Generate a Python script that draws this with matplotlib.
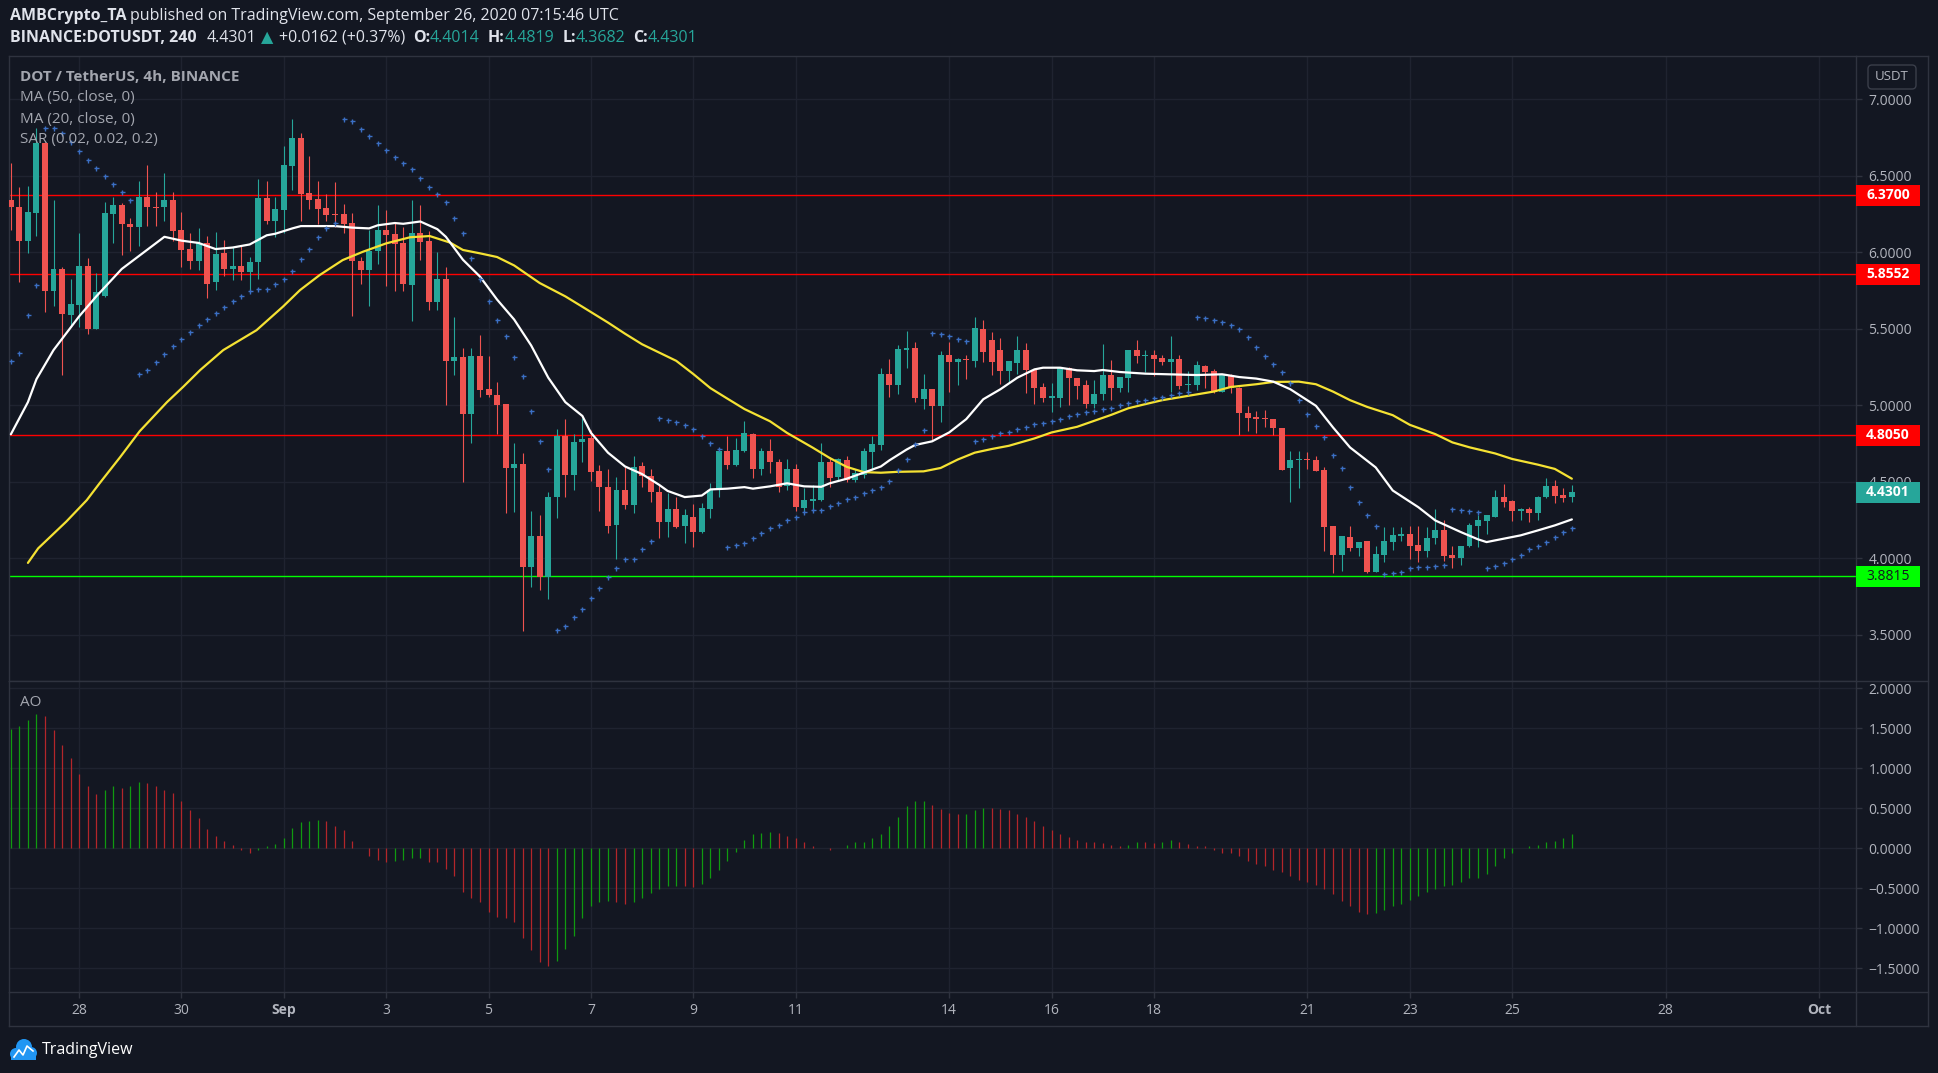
import numpy as np
import pandas as pd
import matplotlib
matplotlib.use("Agg")
import matplotlib.pyplot as plt
import matplotlib.dates as mdates
from matplotlib.patches import Rectangle, FancyBboxPatch, Circle
from matplotlib.lines import Line2D
from matplotlib.transforms import IdentityTransform, blended_transform_factory

plt.rcParams["font.family"] = ["Open Sans", "DejaVu Sans"]

# DOT/USDT 4h candles, Aug 26 16:00 -> Sep 26 04:00
candle_times = pd.date_range("2020-08-26 16:00", periods=184, freq="4h")

opens = [
    6.340, 6.292, 6.075, 6.253, 6.710, 5.748, 5.890, 5.591, 5.657, 5.909,
    5.500, 5.716, 6.249, 6.308, 6.184, 6.166, 6.360, 6.295, 6.292, 6.340,
    6.144, 6.022, 5.944, 6.057, 5.807, 5.994, 5.892, 5.909, 5.872, 5.937,
    6.353, 6.205, 6.275, 6.562, 6.745, 6.388, 6.347, 6.288, 6.249, 6.249,
    6.190, 5.944, 5.885, 6.009, 6.144, 6.118, 6.060, 5.787, 6.125, 6.073,
    5.676, 5.824, 5.291, 5.315, 4.945, 5.321, 5.106, 5.067, 5.009, 4.590,
    4.613, 3.946, 4.144, 3.881, 4.398, 4.796, 4.545, 4.757, 4.787, 4.568,
    4.465, 4.218, 4.444, 4.346, 4.602, 4.540, 4.433, 4.238, 4.323, 4.213,
    4.268, 4.172, 4.323, 4.449, 4.698, 4.609, 4.700, 4.810, 4.586, 4.698,
    4.632, 4.472, 4.581, 4.330, 4.375, 4.380, 4.632, 4.529, 4.643, 4.513,
    4.545, 4.693, 4.739, 5.204, 5.135, 5.360, 5.375, 5.043, 5.107, 4.998,
    5.325, 5.279, 5.302, 5.290, 5.495, 5.423, 5.360, 5.223, 5.278, 5.360,
    5.230, 5.119, 5.050, 5.050, 5.245, 5.176, 5.132, 5.011, 5.072, 5.197,
    5.115, 5.180, 5.358, 5.321, 5.328, 5.306, 5.282, 5.300, 5.130, 5.132,
    5.256, 5.223, 5.089, 5.197, 5.111, 4.946, 4.918, 4.915, 4.909, 4.850,
    4.588, 4.640, 4.651, 4.644, 4.579, 4.208, 4.020, 4.137, 4.067, 4.111,
    3.911, 4.020, 4.106, 4.145, 4.160, 4.085, 4.048, 4.134, 4.182, 4.020,
    4.000, 4.078, 4.208, 4.243, 4.273, 4.403, 4.377, 4.308, 4.325, 4.299,
    4.399, 4.475, 4.416, 4.4014,
]
highs = [
    6.580, 6.427, 6.432, 6.810, 6.720, 6.340, 5.905, 5.824, 6.125, 5.960,
    5.861, 6.327, 6.362, 6.321, 6.223, 6.464, 6.569, 6.393, 6.517, 6.393,
    6.262, 6.125, 6.157, 6.105, 6.131, 6.079, 6.035, 6.042, 5.968, 6.478,
    6.464, 6.360, 6.690, 6.870, 6.780, 6.628, 6.464, 6.380, 6.458, 6.314,
    6.255, 5.970, 6.144, 6.308, 6.275, 6.192, 6.166, 6.340, 6.308, 6.138,
    6.003, 5.905, 5.578, 5.371, 5.371, 5.459, 5.321, 5.154, 5.009, 4.750,
    4.689, 4.307, 4.282, 4.430, 4.842, 4.913, 4.810, 4.918, 4.838, 4.609,
    4.581, 4.529, 4.597, 4.666, 4.632, 4.581, 4.483, 4.426, 4.403, 4.323,
    4.357, 4.362, 4.490, 4.723, 4.796, 4.787, 4.895, 4.819, 4.723, 4.778,
    4.648, 4.648, 4.613, 4.460, 4.476, 4.750, 4.659, 4.655, 4.666, 4.586,
    4.723, 4.796, 5.245, 5.300, 5.393, 5.482, 5.410, 5.204, 5.107, 5.354,
    5.414, 5.311, 5.329, 5.576, 5.555, 5.479, 5.440, 5.290, 5.451, 5.406,
    5.232, 5.143, 5.143, 5.247, 5.247, 5.178, 5.163, 5.163, 5.401, 5.293,
    5.186, 5.360, 5.423, 5.358, 5.358, 5.328, 5.449, 5.328, 5.223, 5.288,
    5.262, 5.234, 5.206, 5.206, 5.119, 4.996, 4.963, 4.970, 4.911, 4.852,
    4.703, 4.703, 4.694, 4.670, 4.594, 4.210, 4.145, 4.213, 4.106, 4.113,
    4.078, 4.204, 4.204, 4.204, 4.208, 4.208, 4.204, 4.323, 4.247, 4.078,
    4.080, 4.230, 4.280, 4.282, 4.449, 4.486, 4.379, 4.327, 4.334, 4.405,
    4.525, 4.512, 4.460, 4.4819,
]
lows = [
    6.144, 5.807, 5.996, 6.105, 5.611, 5.650, 5.200, 5.513, 5.513, 5.467,
    5.500, 5.709, 6.060, 5.983, 6.009, 6.042, 6.173, 6.173, 6.205, 6.075,
    5.905, 5.892, 5.885, 5.702, 5.755, 5.846, 5.820, 5.820, 5.742, 5.827,
    6.186, 6.101, 6.125, 6.406, 6.205, 6.284, 6.186, 6.203, 6.166, 6.123,
    5.585, 5.794, 5.650, 5.924, 5.781, 5.748, 5.748, 5.552, 5.948, 5.624,
    5.624, 5.004, 5.200, 4.500, 4.751, 5.056, 5.056, 4.812, 4.293, 4.300,
    3.527, 3.813, 3.790, 3.733, 4.266, 4.398, 4.444, 4.632, 4.506, 4.311,
    4.167, 3.996, 4.323, 4.293, 4.467, 4.369, 4.133, 4.140, 4.197, 4.101,
    4.076, 4.163, 4.261, 4.403, 4.581, 4.604, 4.694, 4.522, 4.545, 4.559,
    4.430, 4.449, 4.311, 4.311, 4.311, 4.375, 4.467, 4.506, 4.499, 4.499,
    4.522, 4.574, 4.705, 5.055, 5.070, 5.245, 5.020, 4.975, 4.769, 4.888,
    5.089, 5.130, 5.169, 5.250, 5.282, 5.197, 5.137, 5.145, 5.206, 5.082,
    5.007, 5.022, 4.954, 4.989, 5.000, 5.039, 4.983, 4.985, 5.033, 5.033,
    5.089, 5.089, 5.278, 5.217, 5.189, 5.262, 5.087, 5.104, 5.082, 5.098,
    5.111, 5.082, 5.087, 5.082, 4.805, 4.833, 4.816, 4.855, 4.805, 4.577,
    4.367, 4.458, 4.584, 4.568, 4.048, 3.905, 3.918, 4.046, 4.013, 3.905,
    3.909, 3.976, 4.052, 4.111, 3.998, 3.976, 4.009, 4.095, 3.983, 3.939,
    3.959, 4.074, 4.074, 4.160, 4.271, 4.338, 4.243, 4.247, 4.236, 4.247,
    4.397, 4.360, 4.367, 4.3682,
]
closes = [
    6.292, 6.075, 6.262, 6.710, 5.748, 5.890, 5.598, 5.661, 5.909, 5.500,
    5.739, 6.255, 6.308, 6.186, 6.166, 6.360, 6.292, 6.290, 6.340, 6.140,
    6.016, 5.944, 6.057, 5.794, 5.987, 5.892, 5.909, 5.872, 5.935, 6.353,
    6.205, 6.282, 6.570, 6.745, 6.382, 6.340, 6.282, 6.242, 6.245, 6.183,
    5.944, 5.885, 6.007, 6.144, 6.114, 6.053, 5.794, 6.123, 6.068, 5.676,
    5.824, 5.291, 5.315, 4.945, 5.321, 5.102, 5.067, 5.001, 4.590, 4.613,
    3.946, 4.144, 3.881, 4.398, 4.796, 4.545, 4.757, 4.780, 4.563, 4.465,
    4.213, 4.444, 4.346, 4.597, 4.540, 4.433, 4.238, 4.323, 4.204, 4.282,
    4.172, 4.328, 4.449, 4.698, 4.609, 4.705, 4.819, 4.586, 4.698, 4.632,
    4.467, 4.581, 4.334, 4.380, 4.386, 4.632, 4.522, 4.650, 4.513, 4.556,
    4.698, 4.744, 5.204, 5.135, 5.364, 5.375, 5.050, 5.107, 4.998, 5.325,
    5.279, 5.302, 5.295, 5.505, 5.349, 5.284, 5.223, 5.288, 5.360, 5.230,
    5.115, 5.050, 5.052, 5.245, 5.176, 5.126, 5.011, 5.072, 5.197, 5.115,
    5.184, 5.358, 5.321, 5.330, 5.300, 5.282, 5.300, 5.126, 5.139, 5.262,
    5.219, 5.089, 5.197, 5.111, 4.946, 4.918, 4.913, 4.909, 4.850, 4.579,
    4.644, 4.651, 4.644, 4.573, 4.202, 4.020, 4.143, 4.067, 4.104, 3.911,
    4.026, 4.111, 4.150, 4.160, 4.078, 4.048, 4.134, 4.182, 4.013, 4.000,
    4.078, 4.215, 4.247, 4.280, 4.403, 4.371, 4.308, 4.325, 4.299, 4.403,
    4.475, 4.410, 4.393, 4.4301,
]

# Parabolic SAR (0.02, 0.02, 0.2), one dot per candle
sar = [
    5.287, 5.339, 5.587, 5.783, 6.810, 6.810, 6.780, 6.720, 6.660, 6.600,
    6.547, 6.497, 6.445, 6.390, 6.340, 5.202, 5.228, 5.280, 5.332, 5.385,
    5.430, 5.476, 5.522, 5.561, 5.600, 5.639, 5.678, 5.716, 5.744, 5.757,
    5.757, 5.790, 5.824, 5.874, 5.955, 6.022, 6.097, 6.155, 6.188, 6.869,
    6.856, 6.804, 6.757, 6.711, 6.665, 6.621, 6.580, 6.541, 6.482, 6.423,
    6.380, 6.325, 6.221, 6.123, 5.959, 5.822, 5.683, 5.558, 5.453, 5.316,
    5.192, 4.959, 4.764, 4.586, 3.529, 3.557, 3.614, 3.666, 3.740, 3.808,
    3.875, 3.939, 3.998, 3.998, 4.058, 4.110, 4.918, 4.904, 4.892, 4.872,
    4.847, 4.799, 4.755, 4.716, 4.076, 4.090, 4.101, 4.133, 4.167, 4.195,
    4.220, 4.247, 4.273, 4.300, 4.316, 4.318, 4.339, 4.364, 4.385, 4.403,
    4.426, 4.444, 4.465, 4.508, 4.574, 4.650, 4.748, 4.840, 5.473, 5.465,
    5.452, 5.431, 5.418, 4.767, 4.779, 4.796, 4.816, 4.826, 4.844, 4.859,
    4.876, 4.883, 4.898, 4.913, 4.928, 4.941, 4.957, 4.963, 4.974, 4.985,
    5.002, 5.017, 5.028, 5.035, 5.046, 5.054, 5.067, 5.078, 5.089, 5.575,
    5.571, 5.555, 5.544, 5.527, 5.501, 5.445, 5.382, 5.319, 5.267, 5.217,
    5.145, 5.035, 4.941, 4.863, 4.794, 4.675, 4.590, 4.469, 4.369, 4.286,
    4.208, 3.900, 3.905, 3.913, 3.937, 3.940, 3.945, 3.950, 3.959, 4.323,
    4.317, 4.308, 4.300, 3.939, 3.948, 3.967, 3.998, 4.024, 4.059, 4.082,
    4.106, 4.141, 4.169, 4.200,
]

# Awesome Oscillator, one bar per candle
ao_vals = [
    1.49, 1.52, 1.60, 1.68, 1.65, 1.48, 1.29, 1.12, 0.93, 0.78,
    0.67, 0.72, 0.77, 0.75, 0.78, 0.82, 0.815, 0.77, 0.73, 0.69,
    0.59, 0.48, 0.38, 0.24, 0.15, 0.09, 0.04, -0.03, -0.06, -0.03,
    0.03, 0.05, 0.13, 0.25, 0.33, 0.34, 0.35, 0.34, 0.28, 0.22,
    0.09, 0.00, -0.10, -0.15, -0.17, -0.16, -0.15, -0.125, -0.12, -0.17,
    -0.18, -0.26, -0.35, -0.55, -0.62, -0.67, -0.80, -0.86, -0.87, -0.93,
    -1.12, -1.28, -1.42, -1.47, -1.41, -1.26, -1.10, -0.88, -0.72, -0.675,
    -0.665, -0.68, -0.70, -0.68, -0.62, -0.56, -0.51, -0.48, -0.47, -0.48,
    -0.485, -0.45, -0.37, -0.28, -0.16, -0.05, 0.10, 0.17, 0.19, 0.20,
    0.19, 0.15, 0.12, 0.08, 0.02, 0.005, -0.02, 0.00, 0.04, 0.07,
    0.08, 0.12, 0.18, 0.28, 0.39, 0.52, 0.585, 0.592, 0.54, 0.49,
    0.44, 0.42, 0.43, 0.48, 0.505, 0.50, 0.49, 0.48, 0.43, 0.39,
    0.34, 0.28, 0.23, 0.18, 0.14, 0.10, 0.08, 0.07, 0.065, 0.04,
    0.03, 0.04, 0.08, 0.07, 0.068, 0.08, 0.10, 0.07, 0.05, 0.03,
    0.02, -0.03, -0.06, -0.062, -0.10, -0.16, -0.20, -0.23, -0.27, -0.30,
    -0.35, -0.40, -0.43, -0.46, -0.51, -0.57, -0.66, -0.72, -0.80, -0.82,
    -0.81, -0.77, -0.73, -0.70, -0.65, -0.60, -0.55, -0.51, -0.48, -0.46,
    -0.42, -0.38, -0.37, -0.32, -0.22, -0.12, -0.06, 0.005, 0.03, 0.04,
    0.07, 0.09, 0.13, 0.17,
]

# moving averages, sampled along the drawn lines (candle offset, value)
ma20_idx = [0, 2, 3, 5, 8, 10, 13, 18, 20, 22, 24, 26, 28, 30, 31, 33, 34, 38, 40, 42,
            43, 45, 46, 48, 50, 51, 53, 55, 57, 59, 61, 63, 65, 67, 68, 70, 72, 74, 76, 77,
            79, 81, 82, 84, 86, 87, 89, 91, 93, 95, 96, 98, 100, 102, 103, 105, 106, 108, 110, 112,
            114, 116, 118, 120, 121, 123, 125, 127, 128, 130, 133, 137, 139, 142, 144, 146, 148, 150, 153, 155,
            157, 160, 162, 165, 167, 170, 172, 173, 175, 177, 179, 181, 183]
ma20 = [4.81, 5.02, 5.17, 5.36, 5.58, 5.71, 5.89, 6.10, 6.075, 6.06, 6.02, 6.03, 6.05, 6.11, 6.12, 6.155, 6.17, 6.17, 6.16, 6.155,
        6.175, 6.19, 6.185, 6.20, 6.15, 6.10, 5.95, 5.84, 5.69, 5.56, 5.39, 5.18, 5.02, 4.93, 4.82, 4.69, 4.60, 4.55, 4.48, 4.44,
        4.40, 4.41, 4.45, 4.455, 4.465, 4.455, 4.47, 4.49, 4.47, 4.467, 4.49, 4.52, 4.56, 4.60, 4.64, 4.71, 4.74, 4.764, 4.822, 4.909,
        5.039, 5.104, 5.18, 5.234, 5.245, 5.245, 5.228, 5.223, 5.23, 5.217, 5.206, 5.20, 5.197, 5.202, 5.184, 5.174, 5.154, 5.104, 4.996, 4.855,
        4.724, 4.594, 4.443, 4.334, 4.247, 4.171, 4.124, 4.106, 4.128, 4.15, 4.182, 4.215, 4.254]

ma50_idx = [2, 3.2, 6.5, 8.9, 10.4, 12.8, 15.1, 18.3, 20.2, 22.2, 24.9, 27, 28.8, 31.9, 33.9, 36.2, 38.9, 41.3, 44, 46.8,
            49.1, 51.5, 53, 55, 57, 59, 62, 65, 67, 70, 72, 74, 78, 80, 82, 84, 86, 89, 91, 94,
            96, 98, 100, 102, 104, 107, 109, 111, 113, 115, 117, 120, 122, 125, 127, 129, 131, 133, 135, 138,
            141, 143, 146, 148, 151, 153, 155, 157, 159, 162, 164, 167, 169, 171, 174, 176, 179, 181, 183]
ma50 = [3.97, 4.065, 4.24, 4.38, 4.49, 4.66, 4.83, 5.02, 5.12, 5.23, 5.36, 5.43, 5.49, 5.644, 5.752, 5.85, 5.948, 6.003, 6.057, 6.097,
        6.105, 6.062, 6.014, 5.992, 5.968, 5.913, 5.798, 5.711, 5.643, 5.54, 5.467, 5.398, 5.29, 5.204, 5.112, 5.043, 4.975, 4.895, 4.819, 4.723,
        4.655, 4.597, 4.563, 4.559, 4.565, 4.568, 4.59, 4.645, 4.69, 4.714, 4.735, 4.783, 4.822, 4.859, 4.898, 4.937, 4.98, 5.007, 5.033, 5.061,
        5.089, 5.119, 5.137, 5.152, 5.154, 5.137, 5.089, 5.033, 4.989, 4.935, 4.872, 4.811, 4.757, 4.725, 4.685, 4.649, 4.612, 4.584, 4.52]

red_levels = [6.37, 5.8552, 4.805]
green_level = 3.8815
last_price = 4.4301

price_ticks = [3.5, 4.0, 4.5, 5.0, 5.5, 6.0, 6.5, 7.0]
ao_ticks = [-1.5, -1.0, -0.5, 0.0, 0.5, 1.0, 1.5, 2.0]
date_ticks = ["2020-08-28", "2020-08-30", "2020-09-01", "2020-09-03", "2020-09-05", "2020-09-07",
              "2020-09-09", "2020-09-11", "2020-09-14", "2020-09-16", "2020-09-18", "2020-09-21",
              "2020-09-23", "2020-09-25", "2020-09-28", "2020-10-01"]
date_labels = ["28", "30", "Sep", "3", "5", "7", "9", "11", "14", "16", "18", "21", "23", "25", "28", "Oct"]

# colours
BG = "#131722"
GRID = "#1f2330"
BORDER = "#2f333f"
TXT = "#b2b5be"
WHITE = "#e0e3eb"
UP = "#26a69a"
DOWN = "#ef5350"
AO_UP = "#109a10"
AO_DN = "#b3262a"
SAR_C = "#3b6fc4"

W, H = 1938, 1073
fig = plt.figure(figsize=(W / 100, H / 100), dpi=100, facecolor=BG)
PX = IdentityTransform()

L, R = 9, 1856
TOP, MID, BOT, AXB, RB = 56, 681, 992, 1026, 1928
ax = fig.add_axes([L / W, 1 - MID / H, (R - L) / W, (MID - TOP) / H])
axo = fig.add_axes([L / W, 1 - BOT / H, (R - L) / W, (BOT - MID) / H], sharex=ax)

x = mdates.date2num(candle_times.to_pydatetime())
x0 = x[0]
aug28 = mdates.date2num(pd.Timestamp("2020-08-28").to_pydatetime())
day_px = 51.18
ax.set_xlim(aug28 - (79.1 - L) / day_px, aug28 + (R - 79.1) / day_px)
ax.set_ylim(3.1986, 7.281)
axo.set_ylim(-1.8, 2.0875)

for a in (ax, axo):
    a.set_facecolor(BG)
    for s in a.spines.values():
        s.set_color(BORDER)
        s.set_linewidth(1)
    a.grid(True, color=GRID, linewidth=1)
    a.set_axisbelow(True)
    a.yaxis.tick_right()
    a.tick_params(axis="y", length=4, width=1, color=BORDER, labelcolor=TXT, labelsize=10, pad=5)

ax.set_yticks(price_ticks)
ax.set_yticklabels([f"{v:.4f}" for v in price_ticks])
axo.set_yticks(ao_ticks)
axo.set_yticklabels([f"{v:.4f}".replace("-", "\u2212") for v in ao_ticks])

tick_x = mdates.date2num([pd.Timestamp(d).to_pydatetime() for d in date_ticks])
axo.set_xticks(tick_x)
axo.set_xticklabels(date_labels)
axo.tick_params(axis="x", length=4, width=1, color=BORDER, labelcolor=TXT, labelsize=10, pad=4)
ax.tick_params(axis="x", length=0, labelbottom=False)
for lab in axo.get_xticklabels():
    if lab.get_text() in ("Sep", "Oct"):
        lab.set_fontweight("bold")

# horizontal levels
for lv in red_levels:
    ax.axhline(lv, color="#ff0000", linewidth=1, zorder=2)
ax.axhline(green_level, color="#00ff00", linewidth=1, zorder=2)

# candles
o, h, l, c = map(np.array, (opens, highs, lows, closes))
col = np.where(c >= o, UP, DOWN)
ax.vlines(x, l, h, colors=col, linewidth=0.8, zorder=3)
body_lo = np.minimum(o, c)
body_h = np.maximum(np.abs(c - o), 0.007)
ax.bar(x, body_h, bottom=body_lo, width=0.7 / 6, color=col, linewidth=0, zorder=4)

# indicators
ax.plot(x0 + np.array(ma50_idx) / 6, ma50, color="#f5e233", linewidth=1.6, zorder=5, solid_capstyle="round")
ax.plot(x0 + np.array(ma20_idx) / 6, ma20, color="#ffffff", linewidth=1.6, zorder=6, solid_capstyle="round")
ax.plot(x, sar, linestyle="none", marker="+", markersize=3.6, markeredgewidth=1.0, color=SAR_C, zorder=6)

# AO histogram
aov = np.array(ao_vals)
rising = np.r_[True, aov[1:] > aov[:-1]]
axo.vlines(x, 0, aov, colors=np.where(rising, AO_UP, AO_DN), linewidth=0.9)

# price tags on the scale
tr = blended_transform_factory(ax.transAxes, ax.transData)
tag_w = (1920 - R) / (R - L)
tag_h = 21 / 153.1
def price_tag(p, fc, tc, weight):
    ax.add_patch(Rectangle((1.0, p - tag_h / 2), tag_w, tag_h, transform=tr, facecolor=fc,
                           edgecolor="none", clip_on=False, zorder=10))
    ax.text(1.0 + 10 / (R - L), p, f"{p:.4f}", transform=tr, color=tc, fontsize=10,
            fontweight=weight, va="center", ha="left", clip_on=False, zorder=11)

for lv in red_levels:
    price_tag(lv, "#ff0000", "#ffffff", "bold")
price_tag(last_price, UP, "#ffffff", "bold")
price_tag(green_level, "#00ff00", "#131722", "normal")

# frame around scales
def seg(xs, ys):
    fig.add_artist(Line2D(xs, [H - v for v in ys], transform=PX, color=BORDER, linewidth=1))
seg([R, RB], [TOP, TOP])
seg([R, RB], [MID, MID])
seg([R, RB], [BOT, BOT])
seg([L, RB], [AXB, AXB])
seg([RB, RB], [TOP, AXB])
seg([L, L], [BOT, AXB])
seg([R, R], [BOT, AXB])

fig.add_artist(FancyBboxPatch((1868, H - 89), 48, 24, boxstyle="round,pad=0,rounding_size=4",
                              transform=PX, facecolor=BG, edgecolor="#3a3e4a", linewidth=1))
fig.text(1892 / W, 1 - 77 / H, "USDT", color=TXT, fontsize=9.5, ha="center", va="center")

# header rows
rend = fig.canvas.get_renderer()
def row(xp, yp, parts, size=11.5):
    for s, color, weight, gap in parts:
        t = fig.text(xp / W, 1 - yp / H, s, color=color, fontsize=size, fontweight=weight,
                     ha="left", va="center")
        xp += t.get_window_extent(renderer=rend).width + gap

row(10, 16, [("AMBCrypto_TA", WHITE, "bold", 4),
             ("published on TradingView.com, September 26, 2020 07:15:46 UTC", WHITE, "normal", 0)])
row(10, 38, [("BINANCE:DOTUSDT, 240", WHITE, "bold", 10),
             ("4.4301", WHITE, "normal", 5),
             ("\u25B2", UP, "normal", 5),
             ("+0.0162 (+0.37%)", WHITE, "normal", 8),
             ("O:", WHITE, "bold", 0), ("4.4014", UP, "normal", 8),
             ("H:", WHITE, "bold", 0), ("4.4819", UP, "normal", 8),
             ("L:", WHITE, "bold", 0), ("4.3682", UP, "normal", 8),
             ("C:", WHITE, "bold", 0), ("4.4301", UP, "normal", 0)])

# pane legends
LEG = "#a3a6af"
fig.text(20 / W, 1 - 77 / H, "DOT / TetherUS, 4h, BINANCE", color=LEG, fontsize=11, fontweight="bold", va="center")
fig.text(20 / W, 1 - 98 / H, "MA (50, close, 0)", color=LEG, fontsize=11, va="center")
fig.text(20 / W, 1 - 119 / H, "MA (20, close, 0)", color=LEG, fontsize=11, va="center")
fig.text(20 / W, 1 - 140 / H, "SAR (0.02, 0.02, 0.2)", color=LEG, fontsize=11, va="center")
fig.text(20 / W, 1 - 703 / H, "AO", color=LEG, fontsize=11, va="center")

# TradingView logo
LOGO = "#2196f3"
for cx, cy, rr in [(16, 1054, 6), (24, 1047, 8), (31, 1053, 6)]:
    fig.add_artist(Circle((cx, H - cy), rr, transform=PX, facecolor=LOGO, edgecolor="none"))
fig.add_artist(Rectangle((11, H - 1060), 25, 7, transform=PX, facecolor=LOGO, edgecolor="none"))
fig.add_artist(Line2D([14, 19, 23, 27, 33], [H - 1057, H - 1050, H - 1055, H - 1046, H - 1051],
                      transform=PX, color="white", linewidth=1.2))
fig.text(42 / W, 1 - 1050 / H, "TradingView", color="#ffffff", fontsize=11.5, va="center")

fig.savefig("out.png", dpi=100, facecolor=BG)
